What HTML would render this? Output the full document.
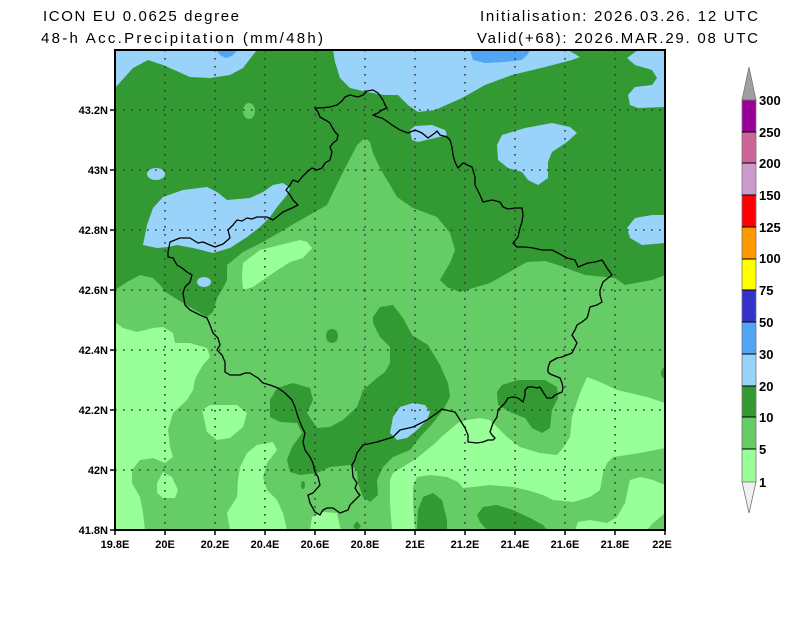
<!DOCTYPE html>
<html>
<head>
<meta charset="utf-8">
<style>
html,body{margin:0;padding:0;background:#ffffff;}
body{width:800px;height:618px;overflow:hidden;}
svg{display:block;}
.t{font-family:"Liberation Sans",Arial,sans-serif;font-size:15px;fill:#000;}
.lb{font-family:"Liberation Sans",Arial,sans-serif;font-size:11px;font-weight:bold;fill:#000;}
.lg{font-family:"Liberation Sans",Arial,sans-serif;font-size:13px;font-weight:bold;fill:#000;}
</style>
</head>
<body>
<svg width="800" height="618" viewBox="0 0 800 618" xmlns="http://www.w3.org/2000/svg">
<defs>
<clipPath id="c"><rect x="115" y="50" width="550" height="480"/></clipPath>
</defs>

<!-- Titles -->
<text class="t" x="43" y="21" textLength="196" lengthAdjust="spacing">ICON EU 0.0625 degree</text>
<text class="t" x="41" y="43" textLength="282" lengthAdjust="spacing">48-h Acc.Precipitation (mm/48h)</text>
<text class="t" x="480" y="21" textLength="278" lengthAdjust="spacing">Initialisation: 2026.03.26. 12 UTC</text>
<text class="t" x="477" y="43" textLength="281" lengthAdjust="spacing">Valid(+68): 2026.MAR.29. 08 UTC</text>

<g clip-path="url(#c)">
<!-- base 10-20 -->
<rect x="115" y="50" width="550" height="480" fill="#339933"/>
<!-- 5-10 region -->
<polygon fill="#66cc66" points="115,290 127,282 140,275 153,278 160,285 167,293 183,303 207,317 213,312 217,298 223,288 227,280 227,265 243,252 263,242 297,222 327,205 340,178 357,145 365,138 370,142 373,153 380,168 387,180 397,197 413,208 437,217 450,233 455,250 450,263 440,280 447,287 460,292 490,283 527,262 545,261 558,265 585,275 615,278 625,285 652,280 665,275 665,530 115,530"/>
<ellipse cx="249" cy="111" rx="6" ry="8" fill="#66cc66"/>

<!-- 1-5 regions -->
<g fill="#99ff99">
<polygon points="242,277 243,263 260,250 300,240 307,242 312,248 303,258 290,262 273,273 260,282 253,287 243,290"/>
<polygon points="115,322 123,328 137,332 153,328 163,327 173,333 175,343 190,343 207,348 210,357 203,365 197,375 195,380 193,390 187,400 173,413 168,430 170,447 173,457 165,463 153,458 140,460 132,470 132,483 140,497 143,513 145,530 115,530"/>
<polygon points="157,483 163,472 172,477 178,490 175,498 163,498 157,493"/>
<polygon points="202,410 210,405 237,405 247,413 243,427 230,438 217,440 207,432"/>
<polygon points="240,467 247,453 257,445 273,442 277,450 267,463 263,477 267,490 277,500 283,513 287,530 230,530 227,513 237,497 238,480"/>
<polygon points="310,530 312,517 323,512 337,513 340,527 342,530"/>
<polygon points="392,530 390,503 390,480 393,473 417,458 433,445 447,432 458,423 467,420 480,418 490,420 495,425 507,437 520,447 540,453 557,455 563,448 570,437 572,417 580,393 587,377 600,382 617,390 647,397 665,403 665,448 640,453 613,457 607,463 603,473 600,490 590,497 573,502 553,500 543,495 527,490 513,487 490,485 473,487 463,488 458,482 447,477 430,475 417,477 413,487 413,503 415,530"/>
<polygon points="630,480 640,477 653,480 665,485 665,513 653,523 647,530 575,530 578,522 590,520 607,523 617,517 625,503"/>
</g>

<!-- 10-20 patches in south -->
<g fill="#339933">
<polygon points="373,317 380,307 393,305 403,318 412,335 428,345 440,365 443,372 448,383 450,397 443,410 433,423 420,437 410,450 393,457 390,460 383,467 377,480 378,495 370,502 363,497 358,483 357,470 350,465 330,467 317,473 300,475 290,472 287,460 292,447 302,433 297,423 280,422 270,417 270,400 277,388 293,383 310,388 313,400 307,413 317,428 330,427 343,420 357,407 363,390 377,378 385,372 390,363 390,347 380,337 373,323"/>
<polygon points="497,392 502,385 518,380 545,380 557,387 558,398 552,410 550,428 542,433 532,428 525,418 512,413 498,405"/>
<ellipse cx="332" cy="336" rx="6" ry="7"/>
<polygon points="418,510 423,497 433,493 442,500 447,520 447,530 417,530"/>
<polygon points="477,515 483,507 497,505 513,510 530,518 543,525 547,530 487,530 480,522"/>
<ellipse cx="303" cy="485" rx="2" ry="4"/>
<polygon points="357,521 361,526 357,531 353,526"/>
<ellipse cx="664" cy="373" rx="3" ry="5"/>
</g>

<!-- 20-30 blue -->
<g fill="#99d3fa">
<polygon points="115,50 257,50 253,55 243,68 230,75 210,78 190,77 163,65 148,60 133,68 115,88"/>
<polygon points="333,50 568,50 580,57 572,60 545,67 512,75 485,85 462,98 435,110 418,112 408,105 398,95 385,95 367,92 350,88 340,78 335,62"/>
<polygon points="638,50 665,50 665,107 638,108 630,105 628,95 635,87 652,85 657,78 652,70 635,65 627,58"/>
<polygon points="410,130 415,126 432,125 445,130 447,135 435,138 418,142 412,140"/>
<polygon points="497,145 502,135 525,128 552,123 570,127 577,133 567,142 552,152 548,162 548,178 538,185 528,180 522,172 508,168 498,160"/>
<polygon points="627,228 635,218 652,215 665,215 665,243 642,245 630,238"/>
<ellipse cx="156" cy="174" rx="9" ry="6"/>
<polygon points="143,245 147,225 153,208 163,197 183,190 207,187 217,192 227,200 250,198 263,192 273,185 283,183 290,188 287,195 277,207 270,217 260,227 247,237 230,248 213,253 193,248 177,245 168,247 157,248"/>
<ellipse cx="204" cy="282" rx="7" ry="5"/>
<polygon points="390,433 393,417 400,407 413,403 425,405 430,412 427,420 417,430 407,438 397,440"/>
</g>
<!-- 30-50 -->
<g fill="#50a5f5">
<polygon points="216,50 238,50 232,56 226,58 220,55"/>
<polygon points="470,50 530,50 528,54 522,60 505,62 485,63 473,60"/>
</g>

<!-- grid -->
<g stroke="#3a3a3a" stroke-width="1.6" stroke-dasharray="1.6 6.4" fill="none">
<line x1="165" y1="50" x2="165" y2="530"/>
<line x1="215" y1="50" x2="215" y2="530"/>
<line x1="265" y1="50" x2="265" y2="530"/>
<line x1="315" y1="50" x2="315" y2="530"/>
<line x1="365" y1="50" x2="365" y2="530"/>
<line x1="415" y1="50" x2="415" y2="530"/>
<line x1="465" y1="50" x2="465" y2="530"/>
<line x1="515" y1="50" x2="515" y2="530"/>
<line x1="565" y1="50" x2="565" y2="530"/>
<line x1="615" y1="50" x2="615" y2="530"/>
<line x1="115" y1="110" x2="665" y2="110"/>
<line x1="115" y1="170" x2="665" y2="170"/>
<line x1="115" y1="230" x2="665" y2="230"/>
<line x1="115" y1="290" x2="665" y2="290"/>
<line x1="115" y1="350" x2="665" y2="350"/>
<line x1="115" y1="410" x2="665" y2="410"/>
<line x1="115" y1="470" x2="665" y2="470"/>
</g>

<!-- border -->
<polygon fill="none" stroke="#000" stroke-width="1.3" stroke-linejoin="round" points="168,252 170,242 180,238 190,238 198,243 203,242 210,245 215,247 223,244 230,238 228,230 233,225 237,220 242,221 247,218 252,219 257,217 267,217 273,220 283,212 292,208 298,205 293,200 290,195 286,190 290,185 293,180 298,182 302,177 307,172 312,168 317,170 322,168 325,163 330,160 332,152 330,147 333,143 337,140 338,135 335,132 332,127 330,123 327,121 320,117 318,112 315,108 320,108 330,107 337,105 342,101 345,97 350,95 358,97 363,95 367,91 373,90 378,93 383,100 385,105 387,108 382,110 378,113 373,115 378,117 382,118 388,122 392,125 400,130 408,133 415,130 422,133 428,138 435,133 437,131 440,135 447,137 450,140 452,147 453,155 455,162 458,168 463,163 472,167 475,177 475,185 480,195 483,202 492,200 500,202 503,207 508,209 515,208 522,208 523,215 522,222 520,228 518,237 513,243 517,247 525,247 533,248 542,250 552,250 558,253 567,258 575,260 578,267 583,265 588,263 595,262 602,260 607,268 612,275 608,278 603,282 600,290 600,295 602,302 597,305 590,307 588,315 587,318 582,322 577,325 575,330 572,335 577,343 575,347 572,353 567,355 562,357 557,358 550,362 548,368 548,372 550,374 555,376 560,378 562,383 563,388 562,392 555,395 552,398 547,398 543,392 540,387 537,388 533,387 528,387 525,390 525,395 523,402 518,398 513,397 508,398 505,403 498,410 497,417 493,423 490,432 492,435 495,438 493,440 488,440 483,442 477,443 468,442 468,435 465,428 460,420 455,412 450,411 442,409 437,413 427,420 413,427 400,430 393,437 390,438 377,442 363,445 357,453 355,460 352,465 353,477 357,483 355,488 358,493 360,495 355,500 350,505 348,510 340,513 333,508 327,508 323,510 320,515 315,512 310,503 308,495 313,493 320,485 318,477 315,472 313,463 310,457 305,450 303,442 305,433 302,427 298,417 295,407 292,400 285,393 278,388 270,385 263,383 258,378 253,375 250,373 245,373 240,375 235,375 230,375 225,372 225,362 222,355 217,350 220,345 218,338 213,333 210,325 207,318 200,315 190,310 185,305 183,293 185,287 190,282 192,275 187,272 182,268 177,265 173,258 168,257"/>
</g>

<!-- frame -->
<rect x="115" y="50" width="550" height="480" fill="none" stroke="#000" stroke-width="2"/>

<!-- ticks -->
<g stroke="#000" stroke-width="1.5">
<line x1="110" y1="110" x2="115" y2="110"/>
<line x1="110" y1="170" x2="115" y2="170"/>
<line x1="110" y1="230" x2="115" y2="230"/>
<line x1="110" y1="290" x2="115" y2="290"/>
<line x1="110" y1="350" x2="115" y2="350"/>
<line x1="110" y1="410" x2="115" y2="410"/>
<line x1="110" y1="470" x2="115" y2="470"/>
<line x1="110" y1="530" x2="115" y2="530"/>
<line x1="115" y1="530" x2="115" y2="535"/>
<line x1="165" y1="530" x2="165" y2="535"/>
<line x1="215" y1="530" x2="215" y2="535"/>
<line x1="265" y1="530" x2="265" y2="535"/>
<line x1="315" y1="530" x2="315" y2="535"/>
<line x1="365" y1="530" x2="365" y2="535"/>
<line x1="415" y1="530" x2="415" y2="535"/>
<line x1="465" y1="530" x2="465" y2="535"/>
<line x1="515" y1="530" x2="515" y2="535"/>
<line x1="565" y1="530" x2="565" y2="535"/>
<line x1="615" y1="530" x2="615" y2="535"/>
<line x1="665" y1="530" x2="665" y2="535"/>
</g>

<!-- lat labels -->
<g class="lb" text-anchor="end">
<text x="108" y="114">43.2N</text>
<text x="108" y="174">43N</text>
<text x="108" y="234">42.8N</text>
<text x="108" y="294">42.6N</text>
<text x="108" y="354">42.4N</text>
<text x="108" y="414">42.2N</text>
<text x="108" y="474">42N</text>
<text x="108" y="534">41.8N</text>
</g>
<!-- lon labels -->
<g class="lb" text-anchor="middle">
<text x="115" y="548">19.8E</text>
<text x="165" y="548">20E</text>
<text x="215" y="548">20.2E</text>
<text x="265" y="548">20.4E</text>
<text x="315" y="548">20.6E</text>
<text x="365" y="548">20.8E</text>
<text x="415" y="548">21E</text>
<text x="465" y="548">21.2E</text>
<text x="515" y="548">21.4E</text>
<text x="565" y="548">21.6E</text>
<text x="615" y="548">21.8E</text>
<text x="662" y="548">22E</text>
</g>

<!-- colorbar -->
<g stroke="#777" stroke-width="0.8">
<polygon points="749,67 756,100 742,100" fill="#a0a0a0"/>
<rect x="742" y="100" width="14" height="32" fill="#990099"/>
<rect x="742" y="132" width="14" height="31" fill="#cc6699"/>
<rect x="742" y="163" width="14" height="32" fill="#cc99cc"/>
<rect x="742" y="195" width="14" height="32" fill="#ff0000"/>
<rect x="742" y="227" width="14" height="32" fill="#ff9900"/>
<rect x="742" y="259" width="14" height="31" fill="#ffff00"/>
<rect x="742" y="290" width="14" height="32" fill="#3333cc"/>
<rect x="742" y="322" width="14" height="32" fill="#50a5f5"/>
<rect x="742" y="354" width="14" height="32" fill="#99d3fa"/>
<rect x="742" y="386" width="14" height="31" fill="#339933"/>
<rect x="742" y="417" width="14" height="32" fill="#66cc66"/>
<rect x="742" y="449" width="14" height="33" fill="#99ff99"/>
<polygon points="742,482 756,482 749,513" fill="#f0f0f0"/>
</g>
<g stroke="#000" stroke-width="1">
<line x1="742" y1="132" x2="756" y2="132"/>
<line x1="742" y1="163" x2="756" y2="163"/>
<line x1="742" y1="195" x2="756" y2="195"/>
<line x1="742" y1="227" x2="756" y2="227"/>
<line x1="742" y1="259" x2="756" y2="259"/>
<line x1="742" y1="290" x2="756" y2="290"/>
<line x1="742" y1="322" x2="756" y2="322"/>
<line x1="742" y1="354" x2="756" y2="354"/>
<line x1="742" y1="386" x2="756" y2="386"/>
<line x1="742" y1="417" x2="756" y2="417"/>
<line x1="742" y1="449" x2="756" y2="449"/>
</g>
<g class="lg">
<text x="759" y="105">300</text>
<text x="759" y="137">250</text>
<text x="759" y="168">200</text>
<text x="759" y="200">150</text>
<text x="759" y="232">125</text>
<text x="759" y="263">100</text>
<text x="759" y="295">75</text>
<text x="759" y="327">50</text>
<text x="759" y="359">30</text>
<text x="759" y="391">20</text>
<text x="759" y="422">10</text>
<text x="759" y="454">5</text>
<text x="759" y="487">1</text>
</g>
</svg>
</body>
</html>
